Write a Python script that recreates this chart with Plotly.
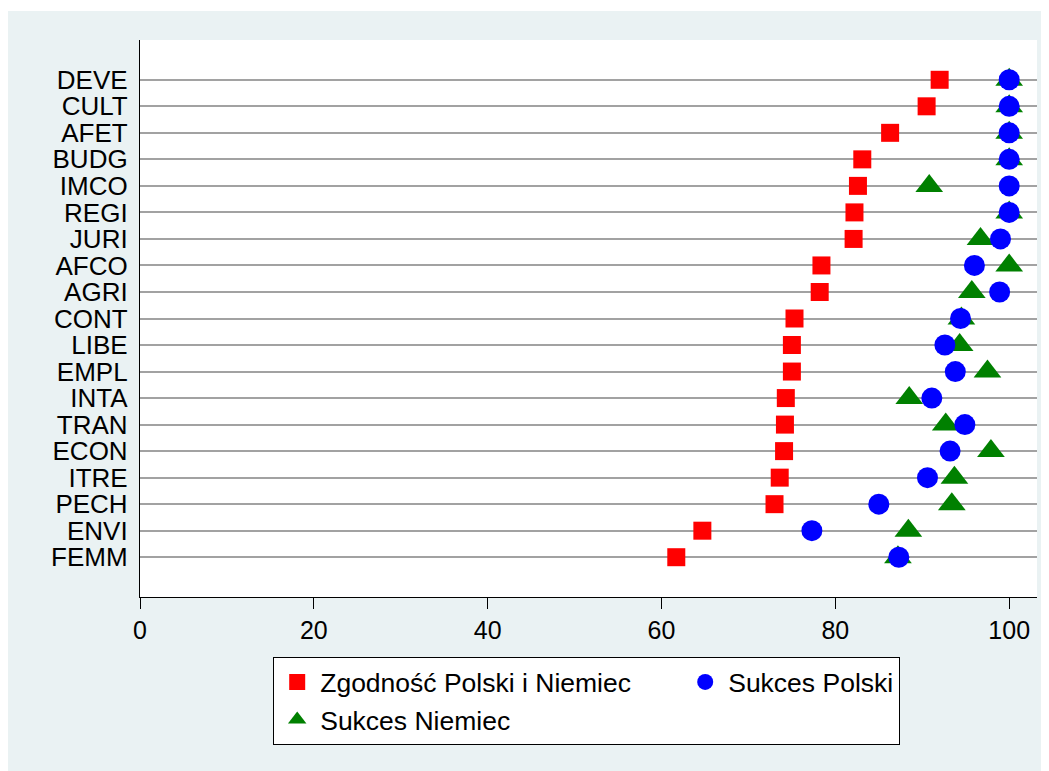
import plotly.graph_objects as go

categories = ["DEVE", "CULT", "AFET", "BUDG", "IMCO", "REGI", "JURI", "AFCO", "AGRI", "CONT",
              "LIBE", "EMPL", "INTA", "TRAN", "ECON", "ITRE", "PECH", "ENVI", "FEMM"]
zgodnosc = [92.0, 90.5, 86.3, 83.1, 82.6, 82.2, 82.1, 78.4, 78.2, 75.3,
            75.0, 75.0, 74.3, 74.2, 74.1, 73.6, 73.0, 64.7, 61.7]
sukces_polski = [100, 100, 100, 100, 100, 100, 99.0, 96.0, 98.9, 94.4,
                 92.6, 93.8, 91.1, 94.9, 93.2, 90.6, 85.0, 77.3, 87.3]
sukces_niemiec = [100, 100, 100, 100, 90.8, 100, 96.7, 100, 95.7, 94.5,
                  94.3, 97.5, 88.5, 92.7, 97.9, 93.7, 93.4, 88.4, 87.2]
x_ticks = [0, 20, 40, 60, 80, 100]

FONT = "Liberation Sans, Arial, sans-serif"

W, H = 1041, 763
ML, MR, MT, MB = 132, 12, 32, 174
PW, PH = W - ML - MR, H - MT - MB

fig = go.Figure()
fig.add_trace(go.Scatter(
    x=zgodnosc, y=categories, mode="markers", name="Zgodność Polski i Niemiec",
    marker=dict(symbol="square", size=18, color="#FF0000"),
    legendrank=1, legendwidth=357))
fig.add_trace(go.Scatter(
    x=sukces_niemiec, y=categories, mode="markers", name="Sukces Niemiec",
    marker=dict(symbol="triangle-up", size=24, color="#008000"),
    legendrank=3, legendwidth=357))
fig.add_trace(go.Scatter(
    x=sukces_polski, y=categories, mode="markers", name="Sukces Polski",
    marker=dict(symbol="circle", size=21, color="#0000FF"),
    legendrank=2))

fig.update_layout(
    width=W, height=H,
    paper_bgcolor="white", plot_bgcolor="white",
    margin=dict(l=ML, r=MR, t=MT, b=MB, autoexpand=False),
    font=dict(family=FONT, color="black"),
    showlegend=True,
    legend=dict(
        orientation="h", x=(265 - ML) / PW, xanchor="left", y=-(649 - (MT + PH)) / PH, yanchor="top",
        bgcolor="white", bordercolor="black", borderwidth=1.2,
        font=dict(size=26.5, family=FONT, color="black"),
        traceorder="normal", itemsizing="trace", itemwidth=36,
    ),
    shapes=[
        dict(type="rect", xref="paper", yref="paper", layer="below",
             x0=-ML / PW, x1=(W - ML) / PW + 0.01, y0=-MB / PH - 0.01, y1=1 + (MT - 3) / PH,
             fillcolor="#EAF2F3", line=dict(width=0)),
        dict(type="rect", xref="paper", yref="paper", layer="below",
             x0=0, x1=1, y0=0, y1=1,
             fillcolor="white", line=dict(width=0)),
    ],
)

fig.update_xaxes(
    range=[0, 103.2], tickvals=x_ticks, ticktext=[str(v) for v in x_ticks],
    showgrid=False, zeroline=False,
    showline=True, linecolor="black", linewidth=1.3,
    ticks="outside", ticklen=11, tickwidth=1.3, tickcolor="black",
    tickfont=dict(size=25, family=FONT, color="black"),
)
fig.update_yaxes(
    type="category", categoryorder="array", categoryarray=categories,
    tickmode="array", tickvals=categories, ticktext=categories,
    range=[len(categories) - 1 + 1.5, -1.5],
    showgrid=True, gridcolor="#A2A2A2", gridwidth=1.6,
    zeroline=False,
    showline=True, linecolor="black", linewidth=1.3,
    ticks="outside", ticklen=6, tickcolor="rgba(0,0,0,0)",
    tickfont=dict(size=26, family=FONT, color="black"),
)

fig.write_html("out.html")
